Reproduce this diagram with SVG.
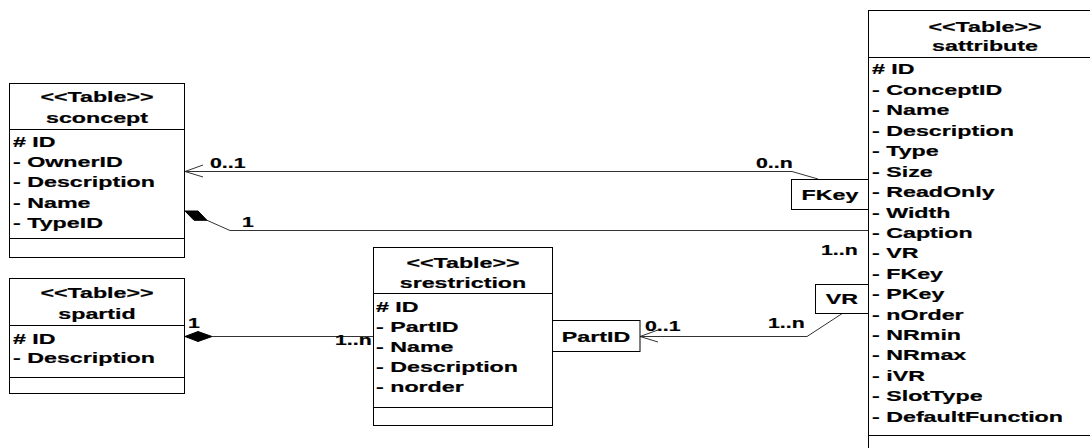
<svg xmlns="http://www.w3.org/2000/svg" width="1090" height="448" viewBox="0 0 1090 448">
  <style>
    .box { fill: #ffffff; stroke: #000000; stroke-width: 1; }
    .sep { stroke: #000000; stroke-width: 1; fill: none; }
    .t { font-family: "Liberation Sans", Arial, sans-serif; font-weight: bold; font-size: 15px; fill: #000000; stroke: #000000; stroke-width: 0.2; }
    .l { font-family: "Liberation Sans", Arial, sans-serif; font-weight: bold; font-size: 14px; fill: #000000; stroke: #000000; stroke-width: 0.2; }
    .c { text-anchor: middle; }
    .wire { stroke: #333333; stroke-width: 1; fill: none; }
    .open { stroke: #333333; stroke-width: 1; fill: none; }
    .dia { fill: #000000; stroke: #000000; stroke-width: 1; }
  </style>
  <rect width="1090" height="448" fill="#ffffff"/>

  <!-- connectors -->
  <g id="connectors">
    <!-- sattribute.FKey -> sconcept -->
    <polyline class="wire" points="185,171.5 792,171.5 818,179"/>
    <polyline class="open" points="203,165 185,171.5 203,177"/>
    <text class="l" transform="translate(210,168) scale(1.52,1)">0..1</text>
    <text class="l" transform="translate(756,168) scale(1.52,1)">0..n</text>

    <!-- sconcept composition of sattribute -->
    <polyline class="wire" points="207,220.3 230,230.5 868,230.5"/>
    <polygon class="dia" points="185,211 198,211 207,220.3 194,220.3"/>
    <text class="l" transform="translate(242,227) scale(1.52,1)">1</text>
    <text class="l" transform="translate(821,255) scale(1.52,1)">1..n</text>

    <!-- spartid composition of srestriction -->
    <line class="wire" x1="212" y1="336.5" x2="373" y2="336.5"/>
    <polygon class="dia" points="185,336.5 198,331.5 212,336.5 198,341.5"/>
    <text class="l" transform="translate(188,328) scale(1.52,1)">1</text>
    <text class="l" transform="translate(335,345) scale(1.52,1)">1..n</text>

    <!-- sattribute.VR -> srestriction.PartID -->
    <polyline class="wire" points="843,313 807,336.5 640,336.5"/>
    <polyline class="open" points="658,330 640,336.5 658,342"/>
    <text class="l" transform="translate(645,331) scale(1.52,1)">0..1</text>
    <text class="l" transform="translate(768,328) scale(1.52,1)">1..n</text>
  </g>

  <!-- sconcept -->
  <g id="sconcept">
    <rect class="box" x="9.5" y="83.5" width="175" height="174"/>
    <line class="sep" x1="9.5" y1="129.5" x2="184.5" y2="129.5"/>
    <line class="sep" x1="9.5" y1="238.5" x2="184.5" y2="238.5"/>
    <text class="t c" transform="translate(97,102) scale(1.55,1)">&lt;&lt;Table&gt;&gt;</text>
    <text class="t c" transform="translate(97,123) scale(1.55,1)">sconcept</text>
    <text class="t" transform="translate(13,147) scale(1.55,1)"># ID</text>
    <text class="t" transform="translate(13,167) scale(1.55,1)">- OwnerID</text>
    <text class="t" transform="translate(13,187) scale(1.55,1)">- Description</text>
    <text class="t" transform="translate(13,208) scale(1.55,1)">- Name</text>
    <text class="t" transform="translate(13,228) scale(1.55,1)">- TypeID</text>
  </g>

  <!-- spartid -->
  <g id="spartid">
    <rect class="box" x="9.5" y="278.5" width="175" height="115"/>
    <line class="sep" x1="9.5" y1="325.5" x2="184.5" y2="325.5"/>
    <line class="sep" x1="9.5" y1="377.5" x2="184.5" y2="377.5"/>
    <text class="t c" transform="translate(97,298) scale(1.55,1)">&lt;&lt;Table&gt;&gt;</text>
    <text class="t c" transform="translate(97,319) scale(1.55,1)">spartid</text>
    <text class="t" transform="translate(13,344) scale(1.55,1)"># ID</text>
    <text class="t" transform="translate(13,363) scale(1.55,1)">- Description</text>
  </g>

  <!-- srestriction -->
  <g id="srestriction">
    <rect class="box" x="373.5" y="247.5" width="179" height="178"/>
    <line class="sep" x1="373.5" y1="293.5" x2="552.5" y2="293.5"/>
    <line class="sep" x1="373.5" y1="407.5" x2="552.5" y2="407.5"/>
    <text class="t c" transform="translate(463,268) scale(1.55,1)">&lt;&lt;Table&gt;&gt;</text>
    <text class="t c" transform="translate(463,288) scale(1.55,1)">srestriction</text>
    <text class="t" transform="translate(376,312) scale(1.55,1)"># ID</text>
    <text class="t" transform="translate(376,332) scale(1.55,1)">- PartID</text>
    <text class="t" transform="translate(376,352) scale(1.55,1)">- Name</text>
    <text class="t" transform="translate(376,372) scale(1.55,1)">- Description</text>
    <text class="t" transform="translate(376,392) scale(1.55,1)">- norder</text>
  </g>

  <!-- qualifier on srestriction -->
  <g id="q-partid">
    <rect class="box" x="552.5" y="320.5" width="87.5" height="31"/>
    <text class="t c" transform="translate(596,341.5) scale(1.55,1)">PartID</text>
  </g>

  <!-- sattribute -->
  <g id="sattribute">
    <rect class="box" x="868.5" y="10.5" width="240" height="450"/>
    <line class="sep" x1="868.5" y1="57.5" x2="1100" y2="57.5"/>
    <line class="sep" x1="868.5" y1="435.5" x2="1100" y2="435.5"/>
    <text class="t c" transform="translate(985,32) scale(1.55,1)">&lt;&lt;Table&gt;&gt;</text>
    <text class="t c" transform="translate(985,51) scale(1.55,1)">sattribute</text>
    <text class="t" transform="translate(872,74) scale(1.55,1)"># ID</text>
    <text class="t" transform="translate(872,94.5) scale(1.55,1)">- ConceptID</text>
    <text class="t" transform="translate(872,115) scale(1.55,1)">- Name</text>
    <text class="t" transform="translate(872,135.5) scale(1.55,1)">- Description</text>
    <text class="t" transform="translate(872,156) scale(1.55,1)">- Type</text>
    <text class="t" transform="translate(872,176.5) scale(1.55,1)">- Size</text>
    <text class="t" transform="translate(872,197) scale(1.55,1)">- ReadOnly</text>
    <text class="t" transform="translate(872,217.5) scale(1.55,1)">- Width</text>
    <text class="t" transform="translate(872,238) scale(1.55,1)">- Caption</text>
    <text class="t" transform="translate(872,258) scale(1.55,1)">- VR</text>
    <text class="t" transform="translate(872,278.5) scale(1.55,1)">- FKey</text>
    <text class="t" transform="translate(872,299) scale(1.55,1)">- PKey</text>
    <text class="t" transform="translate(872,319.5) scale(1.55,1)">- nOrder</text>
    <text class="t" transform="translate(872,340) scale(1.55,1)">- NRmin</text>
    <text class="t" transform="translate(872,360) scale(1.55,1)">- NRmax</text>
    <text class="t" transform="translate(872,380.5) scale(1.55,1)">- iVR</text>
    <text class="t" transform="translate(872,401) scale(1.55,1)">- SlotType</text>
    <text class="t" transform="translate(872,421.5) scale(1.55,1)">- DefaultFunction</text>
  </g>

  <!-- qualifiers on sattribute -->
  <g id="q-fkey">
    <rect class="box" x="791.5" y="179.5" width="77" height="30"/>
    <text class="t c" transform="translate(830,200) scale(1.55,1)">FKey</text>
  </g>
  <g id="q-vr">
    <rect class="box" x="815.5" y="284.5" width="53" height="29"/>
    <text class="t c" transform="translate(842,304) scale(1.55,1)">VR</text>
  </g>
</svg>
